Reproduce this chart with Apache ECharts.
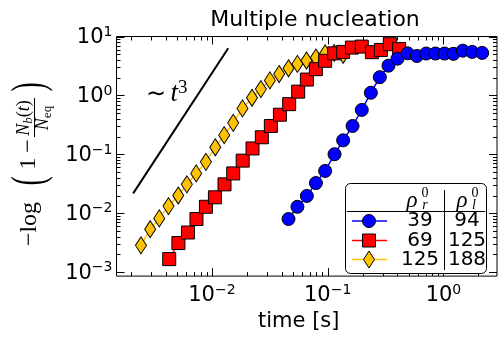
<!DOCTYPE html>
<html><head><meta charset="utf-8">
<script src="https://cdn.jsdelivr.net/npm/echarts@6/dist/echarts.min.js"></script>
<style>html,body{margin:0;padding:0;background:#fff}#c{width:500px;height:337px}</style>
</head><body><div id="c"></div>
<script>
// ---- data ----
const blueT = [0.0459, 0.0548, 0.0661, 0.0791, 0.0951, 0.1146, 0.136, 0.164, 0.197, 0.236, 0.282, 0.335, 0.401, 0.491, 0.589, 0.709, 0.853, 1.02, 1.22, 1.47, 1.77, 2.16];
const blueV = [0.0080, 0.0129, 0.0197, 0.0326, 0.0524, 0.1006, 0.173, 0.303, 0.568, 1.11, 2.04, 3.20, 4.21, 5.18, 4.67, 5.14, 5.14, 5.14, 5.08, 5.75, 5.48, 5.27];
const redT = [0.00428, 0.00514, 0.00621, 0.00736, 0.00888, 0.01062, 0.01285, 0.01528, 0.01845, 0.02243, 0.0270, 0.0323, 0.0387, 0.0465, 0.0556, 0.0661, 0.0791, 0.0951, 0.1138, 0.136, 0.162, 0.197, 0.241, 0.288, 0.344, 0.414];
const redV = [0.00167, 0.00313, 0.00472, 0.0080, 0.0129, 0.0187, 0.031, 0.0475, 0.0783, 0.126, 0.195, 0.303, 0.471, 0.711, 1.16, 1.86, 2.79, 3.87, 5.18, 5.48, 6.49, 6.74, 5.42, 5.91, 7.40, 6.14];
const yellowT = [0.00244, 0.00293, 0.00351, 0.00422, 0.00512, 0.00608, 0.00732, 0.00888, 0.0107, 0.01277, 0.01528, 0.01837, 0.0222, 0.0265, 0.0317, 0.0381, 0.0459, 0.0548, 0.0656, 0.0791, 0.0951, 0.1138, 0.136];
const yellowV = [0.00286, 0.00537, 0.0082, 0.01324, 0.0200, 0.0310, 0.0475, 0.0746, 0.132, 0.212, 0.343, 0.603, 0.912, 1.28, 1.80, 2.31, 2.89, 3.43, 3.91, 4.4, 5.18, 5.27, 4.90];
const guideT = [0.00209, 0.01383];
const guideV = [0.0218, 6.32];
const legendRho = ['39', '69', '125'];
const legendRhoL = ['94', '125', '188'];
const xMajor = [0.01, 0.1, 1];
const xMinor = [0.002,0.003,0.004,0.005,0.006,0.007,0.008,0.009,0.02,0.03,0.04,0.05,0.06,0.07,0.08,0.09,0.2,0.3,0.4,0.5,0.6,0.7,0.8,0.9,2];
const yMajor = [0.001, 0.01, 0.1, 1, 10];
const yMinor = [0.002,0.003,0.004,0.005,0.006,0.007,0.008,0.009,0.02,0.03,0.04,0.05,0.06,0.07,0.08,0.09,0.2,0.3,0.4,0.5,0.6,0.7,0.8,0.9,2,3,4,5,6,7,8,9];

const BLUE = '#0000ff', RED = '#ff0000', YEL = '#ffc200';
const SANS = 'DejaVu Sans', SERIF = 'Liberation Serif';
const zip = (a, b) => a.map((v, i) => [v, b[i]]);

function powLabel(v) {
  const l = Math.log10(v), e = Math.round(l);
  if (Math.abs(l - e) > 1e-6) return '';
  return '{b|10}{e|' + String(e).replace('-', '\u2212') + '}';
}
const labelRich = {
  b: {fontFamily: SANS, fontSize: 21, lineHeight: 23, verticalAlign: 'bottom', color: '#000'},
  e: {fontFamily: SANS, fontSize: 14, lineHeight: 14, verticalAlign: 'top', color: '#000'}
};

function xTicks(len) {
  return function (params, api) {
    const cs = params.coordSys;
    const px = Math.round(api.coord([api.value(0), 1])[0]) + 0.5;
    const yb = cs.y + cs.height, yt = cs.y;
    const st = {stroke: '#000', lineWidth: 1};
    return {type: 'group', children: [
      {type: 'line', shape: {x1: px, y1: yb, x2: px, y2: yb - len}, style: st},
      {type: 'line', shape: {x1: px, y1: yt, x2: px, y2: yt + len}, style: st}
    ]};
  };
}
function yTicks(len) {
  return function (params, api) {
    const cs = params.coordSys;
    const py = Math.round(api.coord([1, api.value(1)])[1]) + 0.5;
    const xl = cs.x, xr = cs.x + cs.width;
    const st = {stroke: '#000', lineWidth: 1};
    return {type: 'group', children: [
      {type: 'line', shape: {x1: xl, y1: py, x2: xl + len, y2: py}, style: st},
      {type: 'line', shape: {x1: xr, y1: py, x2: xr - len, y2: py}, style: st}
    ]};
  };
}

const chart = echarts.init(document.getElementById('c'), null, {renderer: 'canvas'});

const graphics = [];
// y-axis label  -log(1 - N_b(t)/N_eq), rotated
const rot = Math.PI / 2;
function rtext(x, y, text, size, extra, sx) {
  graphics.push({type: 'text', x: x, y: y, rotation: rot, scaleX: sx || 1, silent: true,
    style: Object.assign({text: text, fontFamily: SERIF, fontSize: size, fill: '#000', align: 'center', verticalAlign: 'middle'}, extra || {})});
}
rtext(30, 224, '\u2212log', 24);
rtext(31, 181, '(', 46, null, 0.6);
rtext(29, 163.5, '1', 24);
rtext(29, 146, '\u2212', 24);
rtext(25, 118, '{i|N}{s|b}{r|(}{i|t}{r|)}', 18, {rich: {
  i: {fontFamily: SERIF, fontStyle: 'italic', fontSize: 18, lineHeight: 20, verticalAlign: 'top'},
  r: {fontFamily: SERIF, fontSize: 18, lineHeight: 20, verticalAlign: 'top'},
  s: {fontFamily: SERIF, fontStyle: 'italic', fontSize: 13, lineHeight: 12, verticalAlign: 'bottom'}}});
graphics.push({type: 'line', silent: true, shape: {x1: 34.5, y1: 98, x2: 34.5, y2: 137}, style: {stroke: '#000', lineWidth: 1}});
rtext(44, 118, '{i|N}{s|eq}', 18, {rich: {
  i: {fontFamily: SERIF, fontStyle: 'italic', fontSize: 18, lineHeight: 20, verticalAlign: 'top'},
  s: {fontFamily: SERIF, fontSize: 13, lineHeight: 12, verticalAlign: 'bottom'}}});
rtext(31, 87, ')', 46, null, 0.6);

// ~ t^3 annotation
graphics.push({type: 'text', x: 146, y: 93, silent: true, style: {
  text: '{a|\u223C}{sp| }{t|t}{e|3}', align: 'left', verticalAlign: 'middle',
  rich: {
    a: {fontFamily: SANS, fontSize: 24, lineHeight: 28, verticalAlign: 'bottom'},
    sp: {fontFamily: SERIF, fontSize: 18, lineHeight: 28, verticalAlign: 'bottom'},
    t: {fontFamily: SERIF, fontStyle: 'italic', fontSize: 27, lineHeight: 28, verticalAlign: 'bottom'},
    e: {fontFamily: SERIF, fontSize: 19, lineHeight: 18, verticalAlign: 'top'}
  }}});

// legend table
graphics.push({type: 'rect', silent: true, shape: {x: 345.5, y: 183.5, width: 141, height: 90, r: 5},
  style: {fill: '#fff', stroke: '#000', lineWidth: 1}, z: 50});
graphics.push({type: 'line', silent: true, z: 51, shape: {x1: 347, y1: 211.5, x2: 485, y2: 211.5}, style: {stroke: '#000', lineWidth: 1}});
graphics.push({type: 'line', silent: true, z: 51, shape: {x1: 444.5, y1: 190, x2: 444.5, y2: 270}, style: {stroke: '#000', lineWidth: 1}});
function ltext(x, y, text, size, extra) {
  graphics.push({type: 'text', x: x, y: y, silent: true, z: 52,
    style: Object.assign({text: text, fontFamily: SANS, fontSize: size, fill: '#000', align: 'center', verticalAlign: 'middle'}, extra || {})});
}
ltext(412, 201, '\u03C1', 23, {fontFamily: SERIF, fontStyle: 'italic'});
ltext(425, 193, '0', 14, {fontFamily: SERIF});
ltext(425, 205, 'r', 14, {fontFamily: SERIF, fontStyle: 'italic'});
ltext(462, 201, '\u03C1', 23, {fontFamily: SERIF, fontStyle: 'italic'});
ltext(475, 193, '0', 14, {fontFamily: SERIF});
ltext(474, 205, 'l', 14, {fontFamily: SERIF, fontStyle: 'italic'});
const rowY = [221, 240.5, 259.5];
const rowCol = [BLUE, RED, YEL];
for (let i = 0; i < 3; i++) {
  const y = rowY[i];
  graphics.push({type: 'line', silent: true, z: 51, shape: {x1: 352, y1: y, x2: 387, y2: y}, style: {stroke: rowCol[i], lineWidth: 1.5}});
  ltext(420, y, legendRho[i], 20);
  ltext(467, y, legendRhoL[i], 20);
}
graphics.push({type: 'circle', silent: true, z: 52, shape: {cx: 369, cy: rowY[0], r: 6.5}, style: {fill: BLUE, stroke: '#000', lineWidth: 1}});
graphics.push({type: 'rect', silent: true, z: 52, shape: {x: 362.5, y: rowY[1] - 6.5, width: 13, height: 13}, style: {fill: RED, stroke: '#000', lineWidth: 1}});
graphics.push({type: 'polygon', silent: true, z: 52, shape: {points: [[369, rowY[2] - 8.5], [374.5, rowY[2]], [369, rowY[2] + 8.5], [363.5, rowY[2]]]}, style: {fill: YEL, stroke: '#000', lineWidth: 1}});

const option = {
  animation: false,
  backgroundColor: '#fff',
  title: {text: 'Multiple nucleation', left: 310, top: 4, textAlign: 'center',
    textStyle: {fontFamily: SANS, fontSize: 22, fontWeight: 'normal', color: '#000'}},
  grid: {left: 116.5, right: 1.5, top: 36.5, bottom: 50.5, show: true, borderColor: '#000', borderWidth: 1, backgroundColor: 'transparent', containLabel: false},
  xAxis: {type: 'log', min: 0.0015, max: 2.9, logBase: 10,
    axisLine: {show: false}, axisTick: {show: false}, splitLine: {show: false}, minorTick: {show: false},
    axisLabel: {formatter: powLabel, rich: labelRich, margin: 7, color: '#000', showMinLabel: true, showMaxLabel: true},
    name: 'time [s]', nameLocation: 'middle', nameGap: 28,
    nameTextStyle: {fontFamily: SANS, fontSize: 21, color: '#000', padding: [0, 16, 0, 0]}},
  yAxis: {type: 'log', min: 0.00086, max: 10, logBase: 10,
    axisLine: {show: false}, axisTick: {show: false}, splitLine: {show: false},
    axisLabel: {formatter: powLabel, rich: labelRich, margin: 4, color: '#000'}},
  graphic: graphics,
  series: [
    {type: 'line', name: 'guide', data: zip(guideT, guideV), symbol: 'none', lineStyle: {color: '#000', width: 2}, silent: true, z: 2},
    {type: 'line', name: '125 / 188', data: zip(yellowT, yellowV), symbol: 'diamond', symbolSize: [11, 17],
      color: YEL, lineStyle: {color: YEL, width: 1.5}, itemStyle: {color: YEL, borderColor: '#000', borderWidth: 1}, z: 3},
    {type: 'line', name: '69 / 125', data: zip(redT, redV), symbol: 'rect', symbolSize: 13,
      color: RED, lineStyle: {color: RED, width: 1.5}, itemStyle: {color: RED, borderColor: '#000', borderWidth: 1}, z: 3},
    {type: 'line', name: '39 / 94', data: zip(blueT, blueV), symbol: 'circle', symbolSize: 13,
      color: BLUE, lineStyle: {color: BLUE, width: 1.5}, itemStyle: {color: BLUE, borderColor: '#000', borderWidth: 1}, z: 3},
    {type: 'custom', renderItem: xTicks(8), data: xMajor.map(v => [v, 1]), encode: {x: 0, y: 1}, silent: true, clip: false, z: 10},
    {type: 'custom', renderItem: xTicks(4), data: xMinor.map(v => [v, 1]), encode: {x: 0, y: 1}, silent: true, clip: false, z: 10},
    {type: 'custom', renderItem: yTicks(8), data: yMajor.map(v => [1, v]), encode: {x: 0, y: 1}, silent: true, clip: false, z: 10},
    {type: 'custom', renderItem: yTicks(4), data: yMinor.map(v => [1, v]), encode: {x: 0, y: 1}, silent: true, clip: false, z: 10}
  ]
};
chart.setOption(option);
</script></body></html>
